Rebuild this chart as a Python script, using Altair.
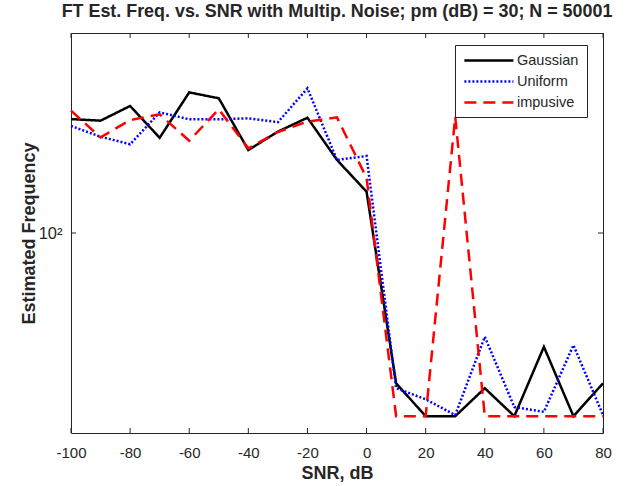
import altair as alt
import pandas as pd

# ---- data ----
snr = [-100, -90, -80, -70, -60, -50, -40, -30, -20, -10, 0, 10, 20, 30, 40, 50, 60, 70, 80]
gaussian = [148.4, 147.6, 155.3, 139.1, 162.8, 159.5, 133.3, 142.1, 149.1, 128.8, 115.4,
            59.4, 53.0, 53.0, 58.4, 53.0, 67.4, 53.0, 59.4]
uniform = [144.9, 139.6, 136.0, 151.9, 148.3, 148.3, 148.8, 146.8, 165.1, 128.8, 130.6,
           58.4, 56.2, 53.2, 69.8, 54.7, 53.8, 67.8, 53.2]
impulsive = [152.8, 139.3, 147.9, 150.9, 137.7, 153.5, 134.1, 141.9, 147.1, 149.3, 121.0,
             53.0, 53.0, 149.6, 53.0, 53.0, 53.0, 53.0, 53.0]

series_names = ["Gaussian", "Uniform", "impusive"]
series_colors = ["#000000", "#0000ff", "#ff0000"]
series_dashes = [[1, 0], [2, 2], [12, 7]]

x_ticks = [-100, -80, -60, -40, -20, 0, 20, 40, 60, 80]
y_ticks = [100]

rows = []
for order, (name, vals) in enumerate(zip(series_names, [gaussian, uniform, impulsive])):
    for s, v in zip(snr, vals):
        rows.append({"snr": s, "freq": v, "noise": name, "k": order})
df = pd.DataFrame(rows)

W, H = 532, 400
FONT = "Liberation Sans"
INK = "#262626"

x_scale = alt.Scale(domain=[-100, 80], nice=False, zero=False)
y_scale = alt.Scale(type="log", domain=[50, 200], nice=False)

lines = alt.Chart(df).mark_line(strokeWidth=2.5).encode(
    x=alt.X("snr:Q", scale=x_scale,
            axis=alt.Axis(values=x_ticks, title="SNR, dB", ticks=False, domain=False, grid=False,
                          labelFlush=False, labelOverlap=False, labelExpr="datum.value + ''",
                          labelFontSize=15, labelPadding=12, labelColor=INK, labelFont=FONT,
                          titleFont=FONT, titleFontSize=18, titleFontWeight="bold", titleColor=INK,
                          titleY=45, titleBaseline="alphabetic")),
    y=alt.Y("freq:Q", scale=y_scale,
            axis=alt.Axis(values=y_ticks, labelExpr="'10²'", title="Estimated Frequency",
                          ticks=False, domain=False, grid=False,
                          labelFontSize=16.5, labelPadding=9, labelColor=INK, labelFont=FONT,
                          titleFont=FONT, titleFontSize=18, titleFontWeight="bold", titleColor=INK,
                          titleX=-42, titleBaseline="middle")),
    color=alt.Color("noise:N", scale=alt.Scale(domain=series_names, range=series_colors),
                    legend=alt.Legend(title=None)),
    strokeDash=alt.StrokeDash("noise:N", scale=alt.Scale(domain=series_names, range=series_dashes),
                              legend=alt.Legend(title=None)),
    detail="k:O",
)

xt = pd.DataFrame({"snr": x_ticks})
yt = pd.DataFrame({"freq": y_ticks})

bottom_ticks = alt.Chart(xt).mark_rule(color=INK, strokeWidth=1).encode(
    x=alt.X("snr:Q", scale=x_scale), y=alt.value(H), y2=alt.value(H - 5))
top_ticks = alt.Chart(xt).mark_rule(color=INK, strokeWidth=1).encode(
    x=alt.X("snr:Q", scale=x_scale), y=alt.value(0), y2=alt.value(5))
left_ticks = alt.Chart(yt).mark_rule(color=INK, strokeWidth=1).encode(
    y=alt.Y("freq:Q", scale=y_scale), x=alt.value(0), x2=alt.value(5))
right_ticks = alt.Chart(yt).mark_rule(color=INK, strokeWidth=1).encode(
    y=alt.Y("freq:Q", scale=y_scale), x=alt.value(W - 5), x2=alt.value(W))

chart = alt.layer(lines, bottom_ticks, top_ticks, left_ticks, right_ticks).properties(
    width=W, height=H,
    title=alt.TitleParams("FT Est. Freq. vs. SNR with Multip. Noise; pm (dB) = 30; N = 50001",
                          font=FONT, fontSize=17.9, fontWeight="bold", color=INK,
                          anchor="middle", baseline="alphabetic", offset=14, dy=16.5),
    autosize=alt.AutoSizeParams(type="none"),
    padding={"left": 71, "top": 33, "right": 35, "bottom": 53},
    background="white",
).configure_view(
    stroke=INK, strokeWidth=1
).configure_legend(
    orient="none", legendX=384, legendY=12,
    symbolType="M-1,0H7", symbolSize=150, symbolStrokeWidth=2.5,
    labelFont=FONT, labelFontSize=14.5, labelColor=INK, labelOffset=39,
    fillColor="white", strokeColor=INK, padding=8, rowPadding=6, cornerRadius=0,
)

chart.save("out.html", embed_options={"renderer": "svg", "actions": False})
